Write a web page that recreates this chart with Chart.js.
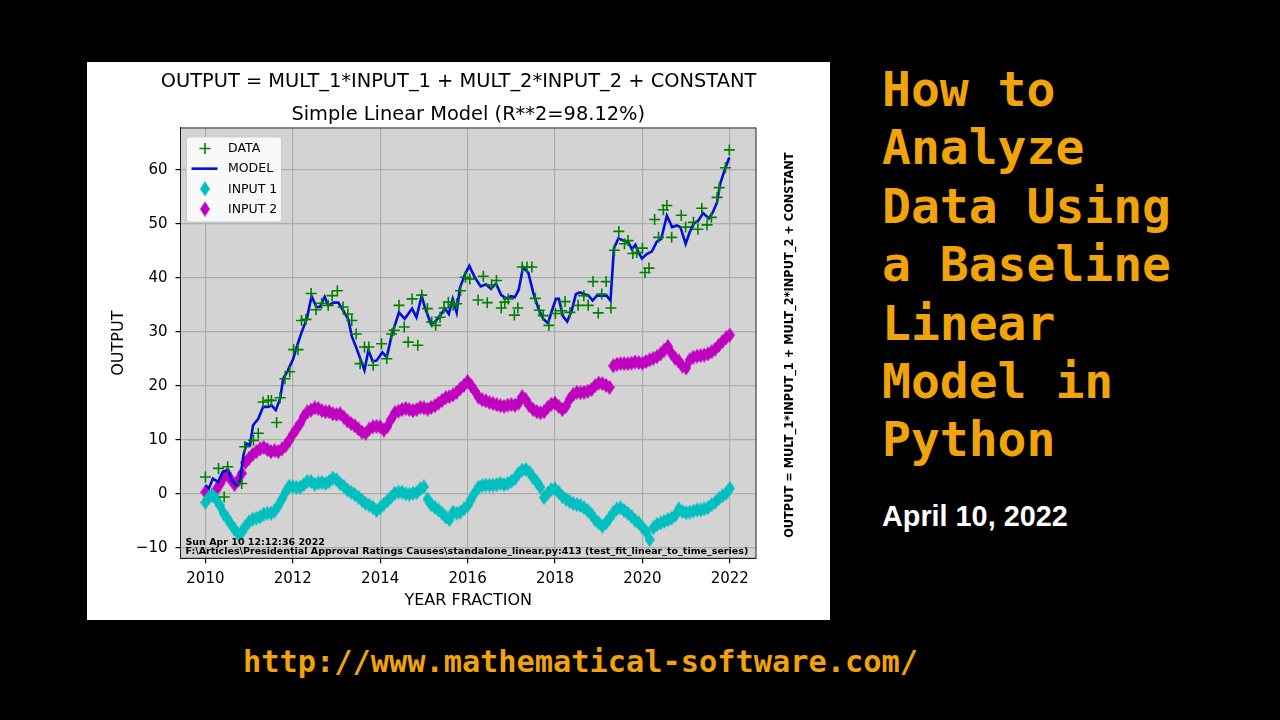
<!DOCTYPE html>
<html>
<head>
<meta charset="utf-8">
<script src="https://cdn.jsdelivr.net/npm/chart.js@4.4.1/dist/chart.umd.min.js"></script>
<style>
  html, body { margin: 0; padding: 0; background: #000; width: 1280px; height: 720px; overflow: hidden; }
  #panel { position: absolute; left: 87px; top: 62px; width: 743px; height: 558px; background: #fff; }
  #headline { position: absolute; left: 882px; top: 60px; font: bold 48px 'DejaVu Sans Mono'; line-height: 58.4px; color: #f0a30a; white-space: pre; }
  #date { position: absolute; left: 882px; top: 500px; font: bold 28.8px 'Liberation Sans'; line-height: 33px; color: #fff; }
  #url { position: absolute; left: 243px; top: 644px; font: bold 30.3px 'DejaVu Sans Mono'; line-height: 36px; color: #f0a30a; white-space: pre; }
</style>
</head>
<body>
<div id="panel"><canvas id="chart" width="743" height="558"></canvas></div>
<div id="headline">How to
Analyze
Data Using
a Baseline
Linear
Model in
Python</div>
<div id="date">April 10, 2022</div>
<div id="url">http://www.mathematical-software.com/</div>
<script>
// ---- values ----
const X_TICKS = [2010, 2012, 2014, 2016, 2018, 2020, 2022];
const Y_TICKS = [-10, 0, 10, 20, 30, 40, 50, 60];

const DATA_YEARS = [
  2010.00, 2010.30, 2010.43, 2010.51, 2010.83, 2010.90, 2011.10, 2011.21, 2011.32, 2011.44,
  2011.51, 2011.63, 2011.71, 2011.82, 2011.93, 2012.02, 2012.12, 2012.20, 2012.30, 2012.42,
  2012.53, 2012.66, 2012.81, 2012.90, 2013.02, 2013.15, 2013.26, 2013.35, 2013.45, 2013.54,
  2013.64, 2013.74, 2013.84, 2014.03, 2014.15, 2014.26, 2014.32, 2014.43, 2014.55, 2014.64,
  2014.73, 2014.86, 2014.95, 2015.08, 2015.18, 2015.27, 2015.37, 2015.46, 2015.56, 2015.67,
  2015.75, 2015.84, 2015.95, 2016.05, 2016.24, 2016.36, 2016.45, 2016.55, 2016.66, 2016.77,
  2016.85, 2016.93, 2017.07, 2017.15, 2017.25, 2017.36, 2017.47, 2017.55, 2017.64, 2017.73,
  2017.86, 2018.01, 2018.15, 2018.23, 2018.34, 2018.53, 2018.66, 2018.76, 2018.87, 2018.99,
  2019.07, 2019.17, 2019.28, 2019.36, 2019.46, 2019.59, 2019.67, 2019.78, 2019.87, 2020.00,
  2020.06, 2020.15, 2020.28, 2020.37, 2020.48, 2020.56, 2020.67, 2020.89, 2020.99, 2021.17,
  2021.27, 2021.36, 2021.48, 2021.58, 2021.71, 2021.76, 2021.90, 2021.99
];
const DATA_VALUES = [
  3.1, 4.7, -0.6, 5.0, 1.9, 8.7, 9.9, 11.2, 17.0, 17.3,
  17.3, 13.2, 17.8, 21.3, 22.6, 26.7, 26.7, 32.1, 32.3, 37.1,
  34.1, 35.3, 34.9, 36.7, 37.6, 34.6, 33.3, 32.1, 29.6, 24.1,
  27.2, 27.2, 23.8, 27.8, 25.0, 29.6, 30.3, 34.9, 30.9, 28.1,
  36.1, 27.5, 36.8, 34.3, 31.8, 31.2, 32.7, 34.4, 35.5, 34.9,
  35.2, 37.6, 40.1, 39.8, 35.9, 40.3, 35.4, 38.7, 39.5, 34.4,
  35.5, 36.1, 33.1, 34.4, 42.0, 42.0, 42.0, 36.2, 34.0, 33.0,
  31.2, 33.4, 33.9, 35.6, 33.6, 34.9, 36.7, 34.9, 39.3, 33.5,
  37.0, 39.3, 34.4, 45.1, 48.6, 46.3, 46.9, 44.5, 44.7, 45.5,
  41.0, 41.8, 50.8, 47.5, 52.6, 53.4, 47.5, 51.6, 49.4, 50.3,
  49.0, 52.9, 49.8, 51.2, 54.9, 56.7, 60.4, 63.7
];

const MODEL_YEARS = [
  2010.00, 2010.08, 2010.17, 2010.29, 2010.40, 2010.52, 2010.60, 2010.71, 2010.79, 2010.87,
  2010.94, 2011.02, 2011.09, 2011.21, 2011.32, 2011.44, 2011.51, 2011.61, 2011.71, 2011.78,
  2011.89, 2012.01, 2012.09, 2012.20, 2012.32, 2012.43, 2012.54, 2012.62, 2012.73, 2012.81,
  2012.93, 2013.04, 2013.15, 2013.27, 2013.35, 2013.46, 2013.54, 2013.64, 2013.73, 2013.83,
  2013.92, 2014.05, 2014.15, 2014.26, 2014.43, 2014.56, 2014.73, 2014.83, 2014.95, 2015.02,
  2015.16, 2015.25, 2015.37, 2015.48, 2015.57, 2015.66, 2015.75, 2015.82, 2015.94, 2016.04,
  2016.17, 2016.30, 2016.42, 2016.53, 2016.65, 2016.77, 2016.88, 2017.00, 2017.08, 2017.17,
  2017.27, 2017.39, 2017.50, 2017.62, 2017.73, 2017.84, 2017.93, 2018.02, 2018.09, 2018.18,
  2018.28, 2018.38, 2018.48, 2018.57, 2018.66, 2018.77, 2018.86, 2018.96, 2019.10, 2019.18,
  2019.27, 2019.35, 2019.45, 2019.57, 2019.68, 2019.76, 2019.84, 2019.91, 2019.99, 2020.10,
  2020.22, 2020.33, 2020.43, 2020.56, 2020.68, 2020.79, 2020.87, 2020.99, 2021.08, 2021.17,
  2021.28, 2021.39, 2021.52, 2021.61, 2021.71, 2021.78, 2021.90, 2021.99
];
const MODEL_VALUES = [
  1.6, 1.0, 2.8, 2.2, 4.1, 4.4, 2.5, 1.6, 2.2, 7.1,
  9.3, 9.0, 12.7, 13.9, 16.1, 16.1, 16.4, 15.5, 17.6, 21.3,
  22.9, 25.0, 27.2, 29.9, 32.4, 36.6, 34.6, 34.6, 36.5, 34.9,
  35.4, 35.4, 34.0, 32.3, 29.2, 26.9, 25.1, 22.9, 26.6, 24.5,
  24.7, 26.2, 25.3, 29.3, 33.6, 32.4, 34.3, 32.7, 36.7, 34.6,
  31.5, 31.8, 33.0, 34.3, 33.3, 36.1, 33.6, 38.0, 40.7, 42.2,
  40.0, 38.4, 38.8, 38.0, 38.9, 36.8, 36.2, 36.6, 36.4, 37.8,
  42.0, 40.9, 37.3, 34.3, 32.4, 31.6, 33.9, 36.1, 36.1, 32.9,
  31.9, 33.9, 37.0, 37.3, 37.0, 36.7, 35.8, 36.7, 36.7, 36.7,
  35.8, 45.5, 47.3, 46.9, 46.6, 45.3, 46.1, 44.7, 43.6, 44.4,
  44.9, 46.7, 47.2, 51.5, 49.4, 49.7, 49.4, 46.3, 48.4, 50.0,
  50.6, 52.0, 51.0, 52.1, 54.0, 57.4, 60.4, 62.3
];

// monthly inputs, January 2010 .. January 2022
const INPUT_START_YEAR = 2010;
const INPUT_STEP = 1 / 12;
const INPUT1_VALUES = [
  -1.6, -0.6, -0.3, -1.0, -2.2, -3.6, -4.6, -5.6, -6.6, -7.4, -7.1, -6.0,
  -5.2, -4.7, -4.5, -4.3, -3.8, -3.6, -3.6, -3.2, -2.2, -1.0, 0.3, 1.4,
  1.3, 1.2, 1.2, 1.7, 2.3, 2.3, 1.8, 2.0, 2.1, 1.9, 2.3, 2.9,
  2.6, 1.9, 1.4, 0.7, 0.3, -0.1, -0.6, -1.2, -1.8, -2.1, -2.5, -3.1,
  -2.6, -1.9, -1.3, -0.6, 0.1, 0.3, 0.3, 0.0, -0.1, 0.1, 0.2, 0.9,
  1.3, -1.0, -2.0, -2.5, -3.0, -3.6, -4.3, -4.8, -3.4, -3.6, -3.4, -2.8,
  -2.2, -1.0, 0.2, 1.2, 1.5, 1.6, 1.6, 1.6, 1.7, 1.9, 1.7, 1.9,
  2.3, 2.8, 3.8, 4.4, 4.5, 4.0, 3.0, 2.2, 1.2, -0.7, 0.1, 0.8,
  0.9, 0.3, -0.5, -1.0, -1.4, -1.8, -2.0, -2.2, -2.6, -3.1, -3.8, -4.8,
  -5.4, -6.0, -5.4, -4.5, -3.5, -2.8, -2.6, -3.1, -3.6, -4.2, -4.9, -5.4,
  -6.2, -7.0, -8.5, -6.3, -5.7, -5.4, -5.1, -4.8, -4.5, -4.0, -2.8, -3.3,
  -3.5, -3.4, -3.2, -3.0, -3.0, -2.8, -2.6, -2.0, -1.6, -0.9, -0.4, 0.1,
  1.0
];
const INPUT2_VALUES = [
  0.3, -0.5, -0.3, 0.8, 1.8, 3.0, 3.6, 2.6, 1.7, 2.5, 3.8, 5.8,
  6.6, 7.3, 7.8, 8.3, 8.6, 8.2, 7.8, 8.0, 7.8, 8.3, 8.9, 9.9,
  11.0, 12.0, 13.0, 14.3, 15.2, 15.5, 15.9, 15.8, 15.4, 15.2, 15.2, 14.8,
  14.7, 14.8, 14.2, 13.5, 13.0, 12.6, 12.0, 11.4, 11.2, 12.0, 12.4, 12.5,
  12.4, 11.8, 12.5, 13.8, 15.0, 15.3, 15.6, 15.8, 15.6, 15.4, 15.6, 16.0,
  15.9, 15.7, 16.0, 16.3, 16.8, 17.3, 17.8, 18.0, 18.3, 18.8, 19.5, 20.1,
  20.8, 20.0, 19.0, 17.9, 17.4, 17.2, 16.9, 16.7, 16.5, 16.3, 16.2, 16.4,
  16.5, 16.4, 16.8, 18.0, 17.4, 16.3, 15.6, 15.2, 15.0, 15.2, 16.0, 16.6,
  16.8, 16.2, 15.6, 16.2, 17.5, 18.4, 18.8, 18.7, 18.8, 19.0, 19.3, 20.0,
  20.5, 20.4, 20.1, 19.7, 23.7, 24.0, 24.1, 24.1, 24.1, 24.2, 24.4, 24.3,
  24.2, 24.5, 24.8, 25.1, 25.4, 25.9, 26.6, 27.3, 26.0, 25.1, 24.6, 23.6,
  23.3, 24.8, 25.3, 25.5, 25.6, 25.7, 25.9, 26.3, 26.8, 27.5, 28.2, 28.9,
  29.4
];

const SIDE_TEXT = 'OUTPUT = MULT_1*INPUT_1 + MULT_2*INPUT_2 + CONSTANT';
const STAMP_LINES = [
  'Sun Apr 10 12:12:36 2022',
  'F:\\Articles\\Presidential Approval Ratings Causes\\standalone_linear.py:413 (test_fit_linear_to_time_series)'
];

// ---- styling ----
const FONT = 'DejaVu Sans';
const C_DATA = '#008000', C_MODEL = '#0010d8', C_IN1 = '#00bfbf', C_IN2 = '#bf00bf';

// matplotlib 'd' marker (thin diamond) as an image point style
function thinDiamond(color) {
  const c = document.createElement('canvas');
  c.width = 10; c.height = 15;
  const g = c.getContext('2d');
  g.fillStyle = color;
  g.beginPath();
  g.moveTo(5, 0); g.lineTo(10, 7.5); g.lineTo(5, 15); g.lineTo(0, 7.5);
  g.closePath(); g.fill();
  return c;
}
const DIAMOND_IN1 = thinDiamond(C_IN1);
const DIAMOND_IN2 = thinDiamond(C_IN2);

const toPoints = (xs, ys) => xs.map((x, i) => ({ x, y: ys[i] }));
const monthly = vals => vals.map((y, i) => ({ x: INPUT_START_YEAR + i * INPUT_STEP, y }));

const mplLook = {
  id: 'mplLook',
  beforeDraw(chart) {
    const { ctx, chartArea: a } = chart;
    ctx.save();
    ctx.fillStyle = '#d3d3d3';
    ctx.fillRect(a.left, a.top, a.right - a.left, a.bottom - a.top);
    ctx.restore();
  },
  afterDraw(chart) {
    const { ctx, chartArea: a } = chart;
    ctx.save();
    // axes frame
    ctx.strokeStyle = '#222';
    ctx.lineWidth = 1;
    ctx.strokeRect(a.left, a.top, a.right - a.left, a.bottom - a.top);

    // legend (upper left, inside axes)
    const bx = a.left + 6, by = a.top + 9, bw = 95, bh = 85;
    ctx.fillStyle = 'rgba(255,255,255,0.85)';
    ctx.strokeStyle = '#cccccc';
    ctx.beginPath();
    ctx.roundRect(bx, by, bw, bh, 3);
    ctx.fill(); ctx.stroke();
    ctx.font = '12.5px ' + FONT;
    ctx.textBaseline = 'middle';
    chart.data.datasets.forEach((ds, i) => {
      const cy = by + 11.5 + i * 20.2, mx = bx + 18.5;
      if (ds.showLine) {
        ctx.strokeStyle = ds.borderColor; ctx.lineWidth = ds.borderWidth;
        ctx.beginPath(); ctx.moveTo(bx + 5, cy); ctx.lineTo(bx + 31, cy); ctx.stroke();
      } else if (ds.pointStyle === 'cross') {
        ctx.strokeStyle = ds.borderColor; ctx.lineWidth = ds.borderWidth;
        ctx.beginPath();
        ctx.moveTo(mx - 5.5, cy); ctx.lineTo(mx + 5.5, cy);
        ctx.moveTo(mx, cy - 5.5); ctx.lineTo(mx, cy + 5.5);
        ctx.stroke();
      } else {
        const img = ds.pointStyle;
        ctx.drawImage(img, mx - img.width / 2, cy - img.height / 2);
      }
      ctx.fillStyle = '#000';
      ctx.fillText(ds.label, bx + 41.5, cy + 0.5);
    });

    // run stamp in the lower left corner
    ctx.font = 'bold 9.5px ' + FONT;
    ctx.textBaseline = 'alphabetic';
    ctx.fillStyle = '#000';
    ctx.fillText(STAMP_LINES[0], a.left + 5, a.bottom - 13, 141);
    ctx.fillText(STAMP_LINES[1], a.left + 5, a.bottom - 4.5, a.right - a.left - 6);

    // rotated formula to the right of the axes
    ctx.translate(a.right + 34, (a.top + a.bottom) / 2 + 2);
    ctx.rotate(-Math.PI / 2);
    ctx.font = 'bold 11.4px ' + FONT;
    ctx.textAlign = 'center';
    ctx.textBaseline = 'middle';
    ctx.fillText(SIDE_TEXT, 0, 0);
    ctx.restore();
  }
};

new Chart(document.getElementById('chart'), {
  type: 'scatter',
  data: {
    datasets: [
      { label: 'DATA', data: toPoints(DATA_YEARS, DATA_VALUES), showLine: false,
        pointStyle: 'cross', pointRadius: 5.5, borderColor: C_DATA, backgroundColor: C_DATA, borderWidth: 1.6 },
      { label: 'MODEL', data: toPoints(MODEL_YEARS, MODEL_VALUES), showLine: true,
        pointRadius: 0, borderColor: C_MODEL, borderWidth: 2.6, tension: 0 },
      { label: 'INPUT 1', data: monthly(INPUT1_VALUES), showLine: false,
        pointStyle: DIAMOND_IN1, pointRadius: 5, borderColor: C_IN1, backgroundColor: C_IN1 },
      { label: 'INPUT 2', data: monthly(INPUT2_VALUES), showLine: false,
        pointStyle: DIAMOND_IN2, pointRadius: 5, borderColor: C_IN2, backgroundColor: C_IN2 }
    ]
  },
  options: {
    responsive: false,
    animation: false,
    events: [],
    layout: { padding: 0 },
    plugins: {
      legend: { display: false },
      tooltip: { enabled: false },
      title: {
        display: true,
        text: 'OUTPUT = MULT_1*INPUT_1 + MULT_2*INPUT_2 + CONSTANT',
        color: '#000',
        font: { family: FONT, size: 19.4, weight: 'normal' },
        padding: { top: 8.8, bottom: 5.5 }
      },
      subtitle: {
        display: true,
        fullSize: false,
        text: 'Simple Linear Model (R**2=98.12%)',
        color: '#000',
        font: { family: FONT, size: 19.4, weight: 'normal' },
        padding: { top: 4, bottom: 1.1 }
      }
    },
    scales: {
      x: {
        type: 'linear',
        min: 2009.43, max: 2022.6,
        afterBuildTicks: s => { s.ticks = X_TICKS.map(v => ({ value: v })); },
        afterFit: s => { s.height = 61.7; },
        ticks: { color: '#000', font: { family: FONT, size: 15 }, padding: 7, callback: v => String(v) },
        grid: { color: '#adadad', lineWidth: 1.2, tickColor: '#000', tickLength: 5 },
        border: { display: true, color: '#222', width: 1 },
        title: { display: true, text: 'YEAR FRACTION', color: '#000',
                 font: { family: FONT, size: 16 }, padding: { top: 0, bottom: 9.4 } }
      },
      y: {
        min: -11.95, max: 67.76,
        afterBuildTicks: s => { s.ticks = Y_TICKS.map(v => ({ value: v })); },
        afterFit: s => { s.width = 93.5; },
        ticks: { color: '#000', font: { family: FONT, size: 15 }, padding: 8,
                 callback: v => String(v).replace('-', '\u2212') },
        grid: { color: '#adadad', lineWidth: 1.2, tickColor: '#000', tickLength: 5 },
        border: { display: true, color: '#222', width: 1 },
        title: { display: true, text: 'OUTPUT', color: '#000',
                 font: { family: FONT, size: 16 }, padding: { top: 21.9, bottom: 0 } }
      },
      // empty right-hand margin that holds the rotated formula
      side: {
        type: 'linear',
        position: 'right',
        display: true,
        afterFit: s => { s.width = 74; },
        ticks: { display: false },
        grid: { display: false, drawTicks: false },
        border: { display: false }
      }
    }
  },
  plugins: [mplLook]
});
</script>
</body>
</html>
